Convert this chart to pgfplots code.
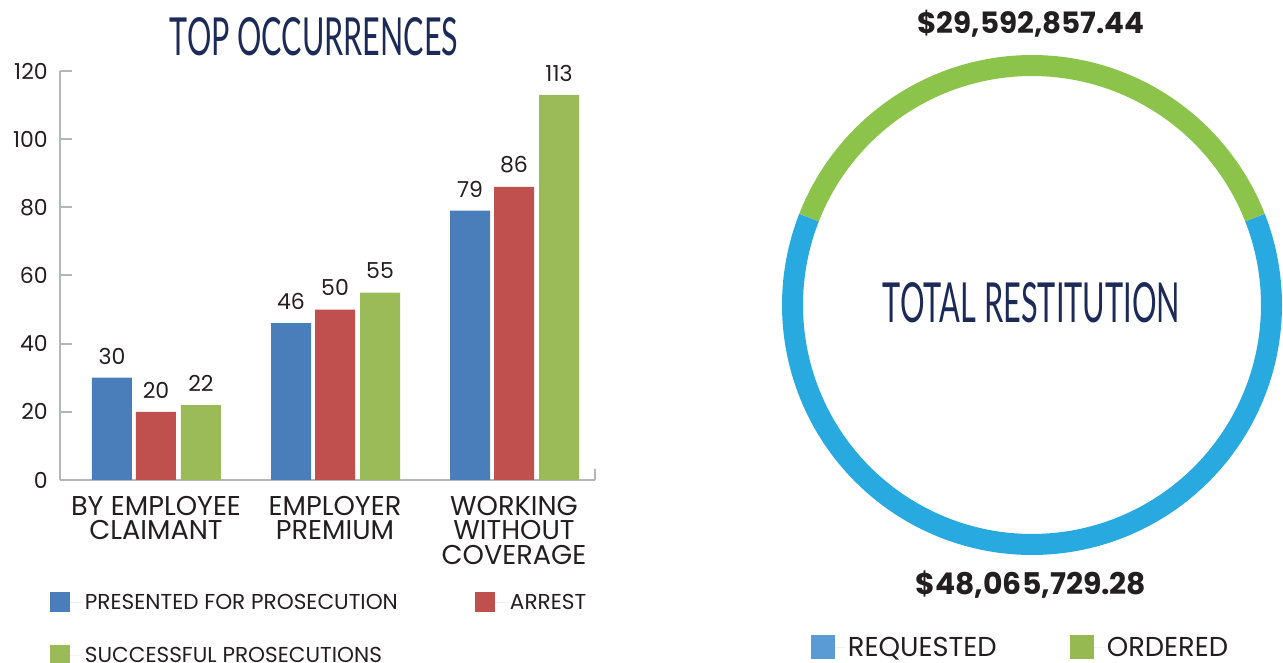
\documentclass[border=0pt]{standalone}
\usepackage{pgfplots}
\pgfplotsset{compat=1.18}
\usepackage{pgfplotstable}
\usepackage{graphicx}
\usepackage{fontspec}
\setmainfont{Poppins}
\newfontfamily\condfont{Lato}
\definecolor{barblue}{HTML}{4A7EBB}
\definecolor{barred}{HTML}{C0504D}
\definecolor{bargreen}{HTML}{9BBB59}
\definecolor{ringblue}{HTML}{28AAE1}
\definecolor{ringgreen}{HTML}{8CC34B}
\definecolor{legblue}{HTML}{5B9BD5}
\definecolor{leggreen}{HTML}{97B952}
\definecolor{navy}{HTML}{1C2A58}
\definecolor{axgray}{HTML}{B3B6BA}
\definecolor{txt}{HTML}{231F20}

\pgfplotstableread{
x presented arrest successful
0 30 20 22
1 46 50 55
2 79 86 113
}\occ
% restitution, millions of dollars
\def\ordered{29.59285744}
\def\requested{48.06572928}

\pgfplotsset{
  barleg/.style={legend image code/.code={\path[draw=none] (0pt,0pt) -- (24pt,0pt);\fill[##1] (0pt,-6.75pt) rectangle (15pt,8.25pt);}},
  ringleg/.style={legend image code/.code={\path[draw=none] (0pt,0pt) -- (25.5pt,0pt);\fill[##1] (0pt,-9pt) rectangle (18pt,9pt);}},
}

\begin{document}
\begin{tikzpicture}
\useasboundingbox (0,0) rectangle (962.25pt,497.25pt);
\begin{axis}[
  at={(45pt,137.25pt)}, anchor=south west,
  scale only axis, width=401.25pt, height=306.75pt,
  xmin=-0.5363, xmax=2.4525, ymin=0, ymax=120,
  ybar, bar width=30pt,
  axis x line=bottom, axis y line=left,
  axis line style={-, axgray, line width=1.5pt},
  ytick={0,20,...,120},
  tick align=inside,
  major tick length=9pt,
  ytick style={axgray, line width=1.5pt},
  xtick={0,1,2},
  xticklabels={{BY EMPLOYEE\\CLAIMANT},{EMPLOYER\\PREMIUM},{WORKING\\WITHOUT\\COVERAGE}},
  x tick style={draw=none},
  xticklabel style={align=center, font=\fontsize{20.4}{18.4}\selectfont, text=txt, anchor=north, inner sep=0pt, yshift=-12pt},
  yticklabel style={font=\fontsize{16.5}{18}\selectfont, text=txt, anchor=east, inner sep=0pt, xshift=-9pt},
  /pgf/number format/assume math mode=true,
  nodes near coords,
  nodes near coords style={font=\fontsize{16.5}{18}\selectfont, text=txt, anchor=south, inner sep=0pt, yshift=10pt},
  clip=false,
  barleg,
  legend columns=2,
  legend cell align=left,
  legend style={at={(-0.0187,-0.2714)}, anchor=north west, draw=none, fill=none, inner sep=0pt,
    font=\fontsize{16.2}{18}\selectfont, text=txt, row sep=23pt,
    /tikz/every even column/.append style={column sep=56pt}},
]
\addplot[bar shift=-33pt, fill=barblue, draw=none] table[x=x,y=presented]{\occ};
\addlegendentry{PRESENTED FOR PROSECUTION}
\addplot[bar shift=0pt, fill=barred, draw=none] table[x=x,y=arrest]{\occ};
\addlegendentry{ARREST}
\addplot[bar shift=33.75pt, fill=bargreen, draw=none] table[x=x,y=successful]{\occ};
\addlegendentry{SUCCESSFUL PROSECUTIONS}
\draw[axgray, line width=1.5pt] (rel axis cs:1,0) -- ++(0pt,8pt);
\end{axis}

\pgfmathsetmacro\ordfrac{\ordered/(\ordered+\requested)}
\pgfmathsetmacro\gstart{90-180*\ordfrac}
\pgfmathsetmacro\gend{90+180*\ordfrac}
\pgfmathsetmacro\bend{\gstart+360}
\begin{axis}[
  at={(774pt,268.5pt)}, anchor=center,
  scale only axis, width=375pt, height=375pt,
  xmin=-1, xmax=1, ymin=-1, ymax=1,
  hide axis, clip=false,
  ringleg,
  legend columns=2,
  legend cell align=left,
  legend style={at={(axis cs:-0.884,-1.37)}, anchor=west, draw=none, fill=none, inner sep=0pt,
    font=\fontsize{20.5}{22}\selectfont, text=txt,
    /tikz/every even column/.append style={column sep=53pt}},
]
\addplot[domain=\gend:\bend, samples=240, ringblue, line width=15.75pt, no markers, forget plot] ({0.958*cos(x)},{0.958*sin(x)});
\addplot[domain=\gstart:\gend, samples=120, ringgreen, line width=15.75pt, no markers, forget plot] ({0.958*cos(x)},{0.958*sin(x)});
\addlegendimage{fill=legblue, draw=none}
\addlegendentry{REQUESTED}
\addlegendimage{fill=leggreen, draw=none}
\addlegendentry{ORDERED}
\end{axis}

\node[navy, anchor=base, inner sep=0pt] at (235.5pt,455.25pt) {\resizebox{216pt}{28.5pt}{\condfont TOP OCCURRENCES}};
\node[navy, anchor=base, inner sep=0pt] at (773.6pt,255pt) {\resizebox{222.75pt}{30pt}{\condfont TOTAL RESTITUTION}};
\node[txt, anchor=base, inner sep=0pt] at (773.25pt,471.75pt) {\resizebox{170.25pt}{!}{\bfseries \$29,592,857.44}};
\node[txt, anchor=base, inner sep=0pt] at (773.25pt,51pt) {\resizebox{173pt}{!}{\bfseries \$48,065,729.28}};
\end{tikzpicture}
\end{document}
